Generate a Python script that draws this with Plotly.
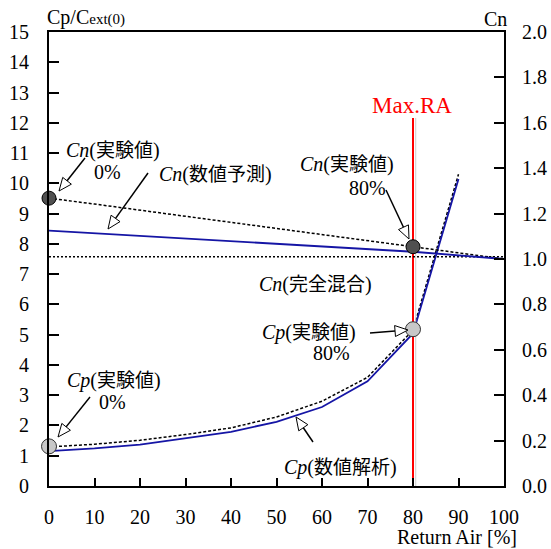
import plotly.graph_objects as go

# ---- data ----
ra = [0, 10, 20, 30, 40, 50, 60, 70, 80, 90]
cp_sim = [1.15, 1.24, 1.37, 1.57, 1.79, 2.12, 2.61, 3.46, 5.04, 10.14]
cp_trend = [1.29, 1.38, 1.51, 1.70, 1.92, 2.28, 2.80, 3.59, 5.15, 10.30]
cn_trend_x = [0, 10, 80, 100]
cn_trend = [1.268, 1.242, 1.054, 1.0]
cn_sim_x = [0, 80, 100]
cn_sim = [1.125, 1.032, 1.0]
cn_mix_x = [0, 100]
cn_mix = [1.01, 1.01]
exp_x = [0, 80]
cp_exp = [1.31, 5.18]
cn_exp = [1.268, 1.054]
max_ra = 80
max_ra_top = 12.16
x_ticks = [0, 10, 20, 30, 40, 50, 60, 70, 80, 90, 100]

# ---- layout geometry (pixels) ----
W, H = 551, 549
L, R, T, B = 49, 504, 32, 486
XR = (0, 100)
YR = (0, 15)

def px2x(px):
    return XR[0] + (px - L) / (R - L) * (XR[1] - XR[0])

def px2y(py):
    return YR[0] + (B - py) / (B - T) * (YR[1] - YR[0])

LAT = "Liberation Serif"
BLUE = "#1515a5"

fig = go.Figure()

fig.add_trace(go.Scatter(x=cn_mix_x, y=cn_mix, yaxis="y2", mode="lines",
                         line=dict(color="black", width=1.5, dash="2px,2px"), showlegend=False))
fig.add_trace(go.Scatter(x=cn_trend_x, y=cn_trend, yaxis="y2", mode="lines",
                         line=dict(color="black", width=1.5, dash="3px,2px"), showlegend=False))
fig.add_trace(go.Scatter(x=cn_sim_x, y=cn_sim, yaxis="y2", mode="lines",
                         line=dict(color=BLUE, width=1.8), showlegend=False))
fig.add_trace(go.Scatter(x=ra, y=cp_trend, mode="lines",
                         line=dict(color="black", width=1.5, dash="3px,2px"), showlegend=False))
fig.add_trace(go.Scatter(x=ra, y=cp_sim, mode="lines",
                         line=dict(color=BLUE, width=1.8), showlegend=False))
# Max RA lines
fig.add_trace(go.Scatter(x=[max_ra + 0.6, max_ra + 0.6], y=[0, max_ra_top], mode="lines",
                         line=dict(color="#cccccc", width=1), showlegend=False))
fig.add_trace(go.Scatter(x=[max_ra, max_ra], y=[0, max_ra_top], mode="lines",
                         line=dict(color="red", width=2), showlegend=False))
# experimental markers
fig.add_trace(go.Scatter(x=exp_x, y=cn_exp, yaxis="y2", mode="markers", cliponaxis=False,
                         marker=dict(size=14, color="#505050", line=dict(color="black", width=1)),
                         showlegend=False))
fig.add_trace(go.Scatter(x=exp_x, y=cp_exp, mode="markers", cliponaxis=False,
                         marker=dict(size=15, color="#c8c8c8", line=dict(color="#333333", width=1)),
                         showlegend=False))

# ---- arrows (pixel coords: tail, tip) ----
arrows = [((85, 158), (59, 191)),
          ((148, 173), (108, 229)),
          ((386, 190), (409, 239)),
          ((370, 333), (408, 330)),
          ((90, 397), (58, 437)),
          ((313, 442), (296, 417))]
shapes = []
for (tx, ty), (px, py) in arrows:
    dx, dy = px - tx, py - ty
    n = (dx * dx + dy * dy) ** 0.5
    ux, uy = dx / n, dy / n
    hl, hw = 13, 5.5
    bx, by = px - ux * hl, py - uy * hl
    nx, ny = -uy, ux
    shapes.append(dict(type="line", xref="x", yref="y",
                       x0=px2x(tx), y0=px2y(ty), x1=px2x(bx), y1=px2y(by),
                       line=dict(color="black", width=1.5)))
    path = "M {} {} L {} {} L {} {} Z".format(
        px2x(px), px2y(py),
        px2x(bx + nx * hw), px2y(by + ny * hw),
        px2x(bx - nx * hw), px2y(by - ny * hw))
    shapes.append(dict(type="path", xref="x", yref="y", path=path,
                       fillcolor="white", line=dict(color="black", width=1)))

def jp(s):
    return '<span style="font-family:\'Noto Sans CJK JP\';font-size:19px">' + s + '</span>'

texts = [("<i>Cn</i>(" + jp("実験値") + ")", 113, 148),
         ("0%", 107, 172),
         ("<i>Cn</i>(" + jp("数値予測") + ")", 215, 172),
         ("<i>Cn</i>(" + jp("実験値") + ")", 347, 162),
         ("80%", 367, 188),
         ("<i>Cn</i>(" + jp("完全混合") + ")", 315, 282),
         ("<i>Cp</i>(" + jp("実験値") + ")", 309, 330),
         ("80%", 331, 353),
         ("<i>Cp</i>(" + jp("実験値") + ")", 114, 378),
         ("0%", 112, 402),
         ("<i>Cp</i>(" + jp("数値解析") + ")", 340, 465)]
annotations = []
for t, cx, cy in texts:
    annotations.append(dict(text=t, x=px2x(cx), y=px2y(cy), xref="x", yref="y",
                            xanchor="center", yanchor="middle", showarrow=False,
                            font=dict(family=LAT, size=20, color="black")))

annotations.append(dict(text="Max.RA", x=px2x(412), y=px2y(105), xref="x", yref="y",
                        xanchor="center", yanchor="middle", showarrow=False,
                        font=dict(family=LAT, size=23, color="red")))
annotations.append(dict(text='Cp/C<span style="font-size:15px">ext(0)</span>',
                        x=(45 - L) / (R - L), y=(B - 18) / (B - T), xref="paper", yref="paper",
                        xanchor="left", yanchor="middle", showarrow=False,
                        font=dict(family=LAT, size=20, color="black")))
annotations.append(dict(text="Cn", x=(495 - L) / (R - L), y=(B - 19) / (B - T),
                        xref="paper", yref="paper", xanchor="center", yanchor="middle",
                        showarrow=False, font=dict(family=LAT, size=20, color="black")))
annotations.append(dict(text="Return Air [%]", x=(457 - L) / (R - L), y=(B - 537) / (B - T),
                        xref="paper", yref="paper", xanchor="center", yanchor="middle",
                        showarrow=False, font=dict(family=LAT, size=20, color="black")))

axis_common = dict(showgrid=False, zeroline=False, showline=True, linecolor="black",
                   linewidth=2, ticks="inside", tickcolor="black", tickwidth=1.5,
                   automargin=False,
                   tickfont=dict(family=LAT, size=20, color="black"))

fig.update_layout(
    width=W, height=H,
    margin=dict(l=L, r=W - R, t=T, b=H - B, autoexpand=False),
    plot_bgcolor="white", paper_bgcolor="white",
    showlegend=False,
    font=dict(family=LAT),
    shapes=shapes,
    annotations=annotations,
    xaxis=dict(range=list(XR), tickvals=x_ticks, ticklen=8, mirror=True,
               ticklabelstandoff=12, **axis_common),
    yaxis=dict(range=list(YR), dtick=1, ticklen=10, ticklabelstandoff=14, **axis_common),
    yaxis2=dict(range=[0, 2], dtick=0.2, tickformat=".1f", ticklen=10, overlaying="y",
                side="right", ticklabelstandoff=12, **axis_common),
)

fig.write_html("out.html")
